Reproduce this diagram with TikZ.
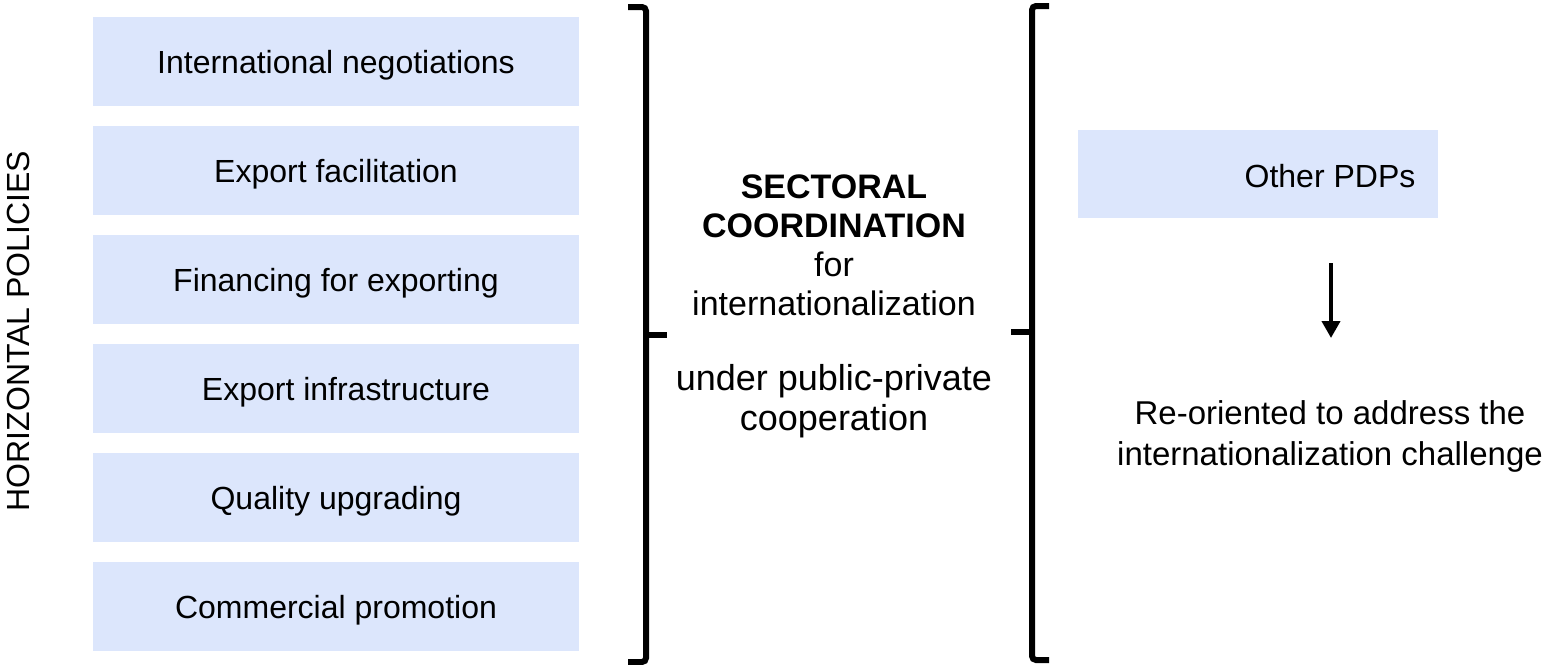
\documentclass[tikz,border=0pt]{standalone}
\usepackage{fontspec}
\setmainfont{Liberation Sans}
\usetikzlibrary{arrows.meta}
\definecolor{boxblue}{RGB}{220,230,252}
\begin{document}
\begin{tikzpicture}[x=1pt,y=-1pt,
  policy/.style={fill=boxblue, draw=none, inner sep=0pt,
    minimum width=486pt, minimum height=89pt,
    font=\fontsize{32}{38}\selectfont, text height=23pt, text depth=0pt},
  brace/.style={line width=6pt, rounded corners=4pt, line cap=butt},
  plain/.style={inner sep=0pt, align=center}
]
\useasboundingbox (0,0) rectangle (1557,664);

% side label
\node[plain, rotate=90, font=\fontsize{32}{38}\selectfont] (hp) at (18,331) {HORIZONTAL POLICIES};

% horizontal policy boxes
\node[policy] (b1) at (336,61.5) {International negotiations};
\node[policy] (b2) at (336,170.5) {Export facilitation};
\node[policy] (b3) at (336,279.5) {Financing for exporting};
\node[policy] (b4) at (336,388.5) {\hspace*{20pt}Export infrastructure};
\node[policy] (b5) at (336,497.5) {Quality upgrading};
\node[policy] (b6) at (336,606.5) {Commercial promotion};

% left brace
\coordinate (l1) at (628,7);
\coordinate (l2) at (646,7);
\coordinate (lm) at (646,335);
\coordinate (lt) at (667,335);
\coordinate (l3) at (646,662);
\coordinate (l4) at (628,662);
\draw[brace] (l1) -- (l2) -- (lm) -- (l3) -- (l4);
\draw[brace] (lm) -- (lt);

% centre text (base anchor sits on the last line)
\node[plain, anchor=base, font=\fontsize{34}{39}\selectfont] (coord) at (834,315)
  {\textbf{SECTORAL}\\\textbf{COORDINATION}\\for\\internationalization};
\node[plain, anchor=base, font=\fontsize{36}{40}\selectfont] (ppc) at (834,430)
  {under public-private\\cooperation};

% right brace
\coordinate (r1) at (1049,6);
\coordinate (r2) at (1032,6);
\coordinate (rm) at (1032,332);
\coordinate (rt) at (1011,332);
\coordinate (r3) at (1032,660);
\coordinate (r4) at (1049,660);
\draw[brace] (r1) -- (r2) -- (rm) -- (r3) -- (r4);
\draw[brace] (rm) -- (rt);

% other PDPs
\node[fill=boxblue, inner sep=0pt, minimum width=360pt, minimum height=88pt] (pdpbox) at (1258,174) {};
\node[plain, font=\fontsize{32}{38}\selectfont, text height=23pt, text depth=0pt] (pdp) at (1330,176) {Other PDPs};
\coordinate (as) at (1331,263);
\coordinate (ae) at (1331,338);
\draw[line width=4pt, -{Triangle[length=17pt,width=18pt]}] (as) -- (ae);
\node[plain, anchor=base, font=\fontsize{33}{41}\selectfont] (reo) at (1330,465)
  {Re-oriented to address the\\internationalization challenge};
\end{tikzpicture}
\end{document}
